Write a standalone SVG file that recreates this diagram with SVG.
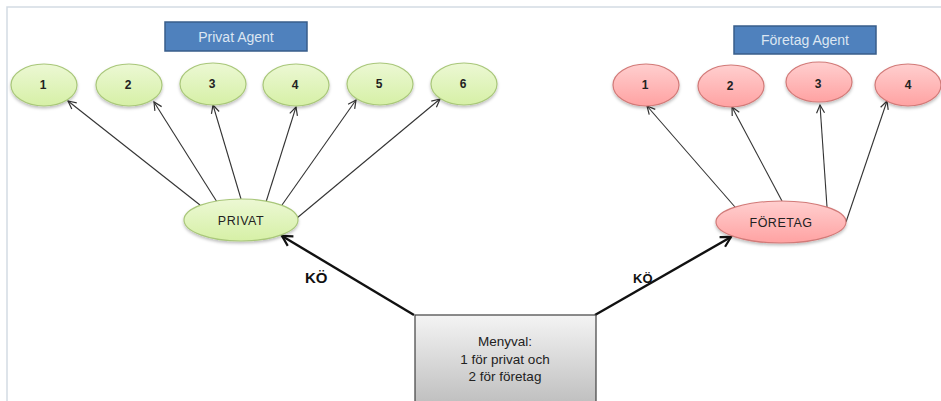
<svg xmlns="http://www.w3.org/2000/svg" width="941" height="401" viewBox="0 0 941 401">
  <defs>
    <linearGradient id="gGreen" x1="0" y1="0" x2="0" y2="1">
      <stop offset="0" stop-color="#ecf8d4"/>
      <stop offset="1" stop-color="#d6f0a6"/>
    </linearGradient>
    <linearGradient id="gRed" x1="0" y1="0" x2="0" y2="1">
      <stop offset="0" stop-color="#ffcfcf"/>
      <stop offset="1" stop-color="#ffa2a2"/>
    </linearGradient>
    <linearGradient id="gGrey" x1="0" y1="0" x2="0" y2="1">
      <stop offset="0" stop-color="#f4f4f4"/>
      <stop offset="1" stop-color="#bdbdbd"/>
    </linearGradient>
    <filter id="shadow" x="-20%" y="-20%" width="140%" height="160%">
      <feDropShadow dx="0" dy="2" stdDeviation="1.5" flood-color="#000" flood-opacity="0.25"/>
    </filter>
    <marker id="arrThin" markerWidth="12" markerHeight="12" refX="10" refY="6" orient="auto" markerUnits="userSpaceOnUse">
      <path d="M2,2 L10,6 L2,10" fill="none" stroke="#333" stroke-width="1.2"/>
    </marker>
    <marker id="arrThick" markerWidth="16" markerHeight="16" refX="13" refY="8" orient="auto" markerUnits="userSpaceOnUse">
      <path d="M3,2.5 L13,8 L3,13.5" fill="none" stroke="#111" stroke-width="2.2"/>
    </marker>
  </defs>
  <style>
    .frame { stroke: #d3dbe3; stroke-width: 1.5; fill: none; }
    .green { fill: url(#gGreen); stroke: #a9c77a; stroke-width: 1.2; filter: url(#shadow); }
    .red { fill: url(#gRed); stroke: #d27a78; stroke-width: 1.2; filter: url(#shadow); }
    .agent { fill: #4f81bd; stroke: #385d8a; stroke-width: 1.5; }
    .agentText { font-family: "Liberation Sans", Arial, sans-serif; font-size: 14px; fill: #dce6f2; text-anchor: middle; }
    .num { font-family: "Liberation Sans", Arial, sans-serif; font-size: 12px; font-weight: bold; fill: #222; text-anchor: middle; }
    .hub { font-family: "Liberation Sans", Arial, sans-serif; font-size: 12.5px; fill: #222; text-anchor: middle; letter-spacing: 0.5px; }
    .menu { fill: url(#gGrey); stroke: #404040; stroke-width: 1.2; }
    .menuText { font-family: "Liberation Sans", Arial, sans-serif; font-size: 13.5px; fill: #222; text-anchor: middle; }
    .thin { stroke: #333; stroke-width: 1.1; fill: none; marker-end: url(#arrThin); }
    .thick { stroke: #111; stroke-width: 2.4; fill: none; marker-end: url(#arrThick); }
    .queue { font-family: "Liberation Sans", Arial, sans-serif; font-weight: bold; fill: #111; }
  </style>

  <!-- page frame -->
  <path class="frame" d="M7,401 L7,7 L941,7"/>

  <!-- connectors -->
  <g id="connectors">
    <line class="thin" x1="200" y1="205" x2="68" y2="101"/>
    <line class="thin" x1="217" y1="202" x2="154" y2="102"/>
    <line class="thin" x1="241" y1="199" x2="213" y2="105"/>
    <line class="thin" x1="266" y1="202" x2="296" y2="107"/>
    <line class="thin" x1="282" y1="205" x2="356" y2="100"/>
    <line class="thin" x1="297" y1="218" x2="440" y2="99"/>

    <line class="thin" x1="735" y1="207" x2="647" y2="106"/>
    <line class="thin" x1="782" y1="201" x2="732" y2="107"/>
    <line class="thin" x1="827" y1="207" x2="820" y2="105"/>
    <line class="thin" x1="846" y1="222" x2="887" y2="101"/>

    <line class="thick" x1="414" y1="315" x2="282" y2="236"/>
    <line class="thick" x1="595" y1="315" x2="731" y2="237"/>
    <text class="queue" x="305" y="283" font-size="15">KÖ</text>
    <text class="queue" x="633" y="283" font-size="13">KÖ</text>
  </g>

  <!-- agent headers -->
  <g id="privat-agent">
    <rect class="agent" x="165" y="22" width="142" height="29"/>
    <text class="agentText" x="236" y="41.5">Privat Agent</text>
  </g>
  <g id="foretag-agent">
    <rect class="agent" x="734" y="26" width="142" height="28"/>
    <text class="agentText" x="805" y="45">Företag Agent</text>
  </g>

  <!-- private agents -->
  <g id="p1"><ellipse class="green" cx="44" cy="85" rx="33" ry="21"/><text class="num" x="43" y="89">1</text></g>
  <g id="p2"><ellipse class="green" cx="129" cy="85" rx="33" ry="21"/><text class="num" x="128" y="89">2</text></g>
  <g id="p3"><ellipse class="green" cx="213" cy="84" rx="33" ry="21"/><text class="num" x="212" y="88">3</text></g>
  <g id="p4"><ellipse class="green" cx="296" cy="85" rx="33" ry="21"/><text class="num" x="295" y="89">4</text></g>
  <g id="p5"><ellipse class="green" cx="380" cy="84" rx="33" ry="21"/><text class="num" x="379" y="88">5</text></g>
  <g id="p6"><ellipse class="green" cx="464" cy="84" rx="33" ry="21"/><text class="num" x="463" y="88">6</text></g>

  <!-- company agents -->
  <g id="f1"><ellipse class="red" cx="646" cy="85" rx="33" ry="21"/><text class="num" x="645" y="89">1</text></g>
  <g id="f2"><ellipse class="red" cx="731" cy="86" rx="33" ry="21"/><text class="num" x="730" y="90">2</text></g>
  <g id="f3"><ellipse class="red" cx="819" cy="82" rx="33" ry="20"/><text class="num" x="818" y="88">3</text></g>
  <g id="f4"><ellipse class="red" cx="908" cy="85" rx="33" ry="21"/><text class="num" x="908" y="89">4</text></g>

  <!-- hubs -->
  <g id="privat">
    <ellipse class="green" cx="241" cy="220" rx="57" ry="21"/>
    <text class="hub" x="241" y="225">PRIVAT</text>
  </g>
  <g id="foretag">
    <ellipse class="red" cx="781" cy="222" rx="65" ry="21"/>
    <text class="hub" x="781" y="227">FÖRETAG</text>
  </g>

  <!-- menu -->
  <g id="menyval">
    <rect class="menu" x="415" y="315" width="181" height="92"/>
    <text class="menuText" x="505" y="346">Menyval:</text>
    <text class="menuText" x="505" y="364">1 för privat och</text>
    <text class="menuText" x="505" y="381">2 för företag</text>
  </g>
</svg>
